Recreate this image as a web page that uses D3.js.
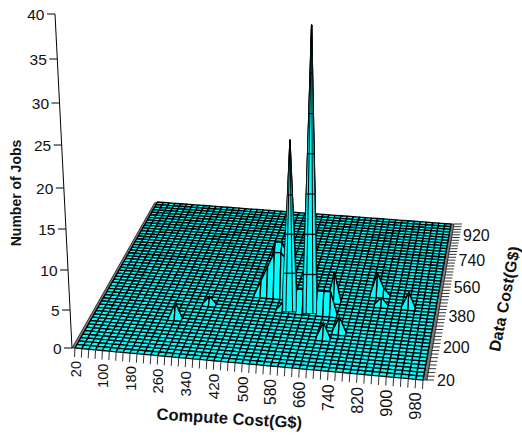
<!DOCTYPE html>
<html><head><meta charset="utf-8">
<script src="https://cdn.jsdelivr.net/npm/d3@7/dist/d3.min.js"></script>
<style>html,body{margin:0;padding:0;background:#fff}svg{display:block}text{font-family:"Liberation Sans",Arial,sans-serif;fill:#111}</style>
</head><body><svg id="c" width="522" height="437"></svg>
<script>
// ---- data
const computeTicks = [20,100,180,260,340,420,500,580,660,740,820,900,980];
const dataTicks = [20,200,380,560,740,920];
const jobTicks = [0,5,10,15,20,25,30,35,40];
const gridStepValues = d3.range(20,1001,20);
// non-zero cells of the surface
const cellCompute = [260,340,700,700,740,820,840,840,920, 480,500,520,540,560,500,520,540,560, 560,600,620,660,680,700];
const cellData    = [240,340,420,200,240,480,480,420,420, 420,420,420,420,420,440,440,440,440, 340,340,340,340,340,340];
const cellJobs    = [  2,  1,  4,  2,  2,  3,  1,  1,  2,   2,  4,  6,  6,  5,  3,  7,  7,  5,   1,  3,  3,  3,  3,  3];
// tall spikes drawn with level contours
const spikeCompute = [580,640];
const spikeData = [340,340];
const spikeJobs = [22,36];
const contourLevels = [5,10,15,20,25,30,35];
const jobPixels = [0,38,78,119,160,203,245,289,334];

// ---- scales
const uScale = d3.scaleLinear([20,1000],[0,1]);
const vScale = d3.scaleLinear([20,1000],[0,1]);
const zScale = d3.scaleLinear(jobTicks,jobPixels);
const P00=[75,348],P10=[423,380],P11=[451,224],P01=[157.5,202];
const dx1=[P10[0]-P11[0],P10[1]-P11[1]],dx2=[P01[0]-P11[0],P01[1]-P11[1]];
const sx=[P00[0]-P10[0]+P11[0]-P01[0],P00[1]-P10[1]+P11[1]-P01[1]];
const D=dx1[0]*dx2[1]-dx1[1]*dx2[0];
const g=(sx[0]*dx2[1]-sx[1]*dx2[0])/D,h=(dx1[0]*sx[1]-dx1[1]*sx[0])/D;
const a=P10[0]-P00[0]+g*P10[0],b=P01[0]-P00[0]+h*P01[0];
const d=P10[1]-P00[1]+g*P10[1],e=P01[1]-P00[1]+h*P01[1];
function project(cx,dy,z){
  const u=uScale(cx),v=vScale(dy),w=g*u+h*v+1;
  const x=(a*u+b*v+P00[0])/w,y=(d*u+e*v+P00[1])/w;
  const H=zScale(z||0)/w;
  return [x+(x-285)*0.000223*H,y-H];
}
const svg=d3.select("#c");
// ---- side skirts
const C=[project(20,20),project(1000,20),project(1000,1000),project(20,1000)];
svg.append("path").attr("d",`M${C[0]}L${C[3]}L${C[3][0]-3},${C[3][1]+1}L${C[0][0]-3},${C[0][1]}Z`).attr("fill","#777").attr("stroke","#000").attr("stroke-width",.7);
svg.append("path").attr("d",`M${C[1]}L${C[2]}L${C[2][0]+3},${C[2][1]}L${C[1][0]+4},${C[1][1]}Z`).attr("fill","#777").attr("stroke","#000").attr("stroke-width",.7);
// ---- surface
const jobsAt=new Map();
cellCompute.forEach((c,i)=>jobsAt.set(c+"_"+cellData[i],cellJobs[i]));
spikeCompute.forEach((c,i)=>jobsAt.set(c+"_"+spikeData[i],spikeJobs[i]));
const Z=(c,y)=>jobsAt.get(c+"_"+y)||0;
const cells=[];
gridStepValues.slice(0,-1).forEach(c=>gridStepValues.slice(0,-1).forEach(y=>cells.push({c,y})));
cells.sort((p,q)=>d3.descending(p.y,q.y)||d3.descending(Math.abs(p.c-620),Math.abs(q.c-620)));
const line=d3.line();
svg.append("g").selectAll("path").data(cells).join("path")
  .attr("d",k=>line([project(k.c,k.y,Z(k.c,k.y)),project(k.c+20,k.y,Z(k.c+20,k.y)),project(k.c+20,k.y+20,Z(k.c+20,k.y+20)),project(k.c,k.y+20,Z(k.c,k.y+20))])+"Z")
  .attr("fill","#00ffff").attr("stroke","#000").attr("stroke-width",1.3).attr("stroke-linejoin","round");
// ---- spike overlays (contours + inner ridges)
const spikes=spikeCompute.map((c,i)=>({c,y:spikeData[i],z:spikeJobs[i]}));
const sg=svg.append("g");
spikes.forEach(s=>{
  const top=project(s.c,s.y,s.z);
  const l=project(s.c-20,s.y-6,3),r=project(s.c+20,s.y-6,3);
  const il=project(s.c-10,s.y-10,0),ir=project(s.c+10,s.y-10,0);
  sg.append("path").attr("d",line([l,top,r,[r[0],il[1]],[l[0],il[1]]])+"Z").attr("fill","#00ffff").attr("stroke","#000").attr("stroke-width",.8);
  sg.append("path").attr("d",line([top,il])).attr("stroke","#000").attr("fill","none");
  sg.append("path").attr("d",line([top,ir])).attr("stroke","#000").attr("fill","none");
  contourLevels.filter(L=>L<s.z).forEach(L=>{
    const y=top[1]+(l[1]-top[1])*(s.z-L)/(s.z-3);
    const t=(y-top[1])/(l[1]-top[1]);
    sg.append("line").attr("x1",top[0]+(l[0]-top[0])*t).attr("x2",top[0]+(r[0]-top[0])*t).attr("y1",y).attr("y2",y).attr("stroke","#000").attr("stroke-width",1.2);
  });
});
// ---- z axis
const zBase=[72,348],zLean=17/334;
const zPos=v=>[zBase[0]-zLean*zScale(v),zBase[1]-zScale(v)];
svg.append("path").attr("d",line([zPos(0),zPos(40)])).attr("stroke","#000").attr("fill","none");
jobTicks.forEach(v=>{
  const p=zPos(v);
  svg.append("line").attr("x1",p[0]-8).attr("x2",p[0]).attr("y1",p[1]).attr("y2",p[1]).attr("stroke","#000");
  svg.append("text").attr("x",p[0]-10.5).attr("y",p[1]+5.5).attr("text-anchor","end").attr("font-size",15.5).text(v);
});
// ---- compute axis
gridStepValues.forEach(v=>{
  const p=project(v,20);
  svg.append("line").attr("x1",p[0]).attr("x2",p[0]-.5).attr("y1",p[1]).attr("y2",p[1]+9).attr("stroke","#333");
});
computeTicks.forEach(v=>{
  const p=project(v,20);
  svg.append("text").attr("transform",`translate(${p[0]+5.5},${p[1]+13}) rotate(-90)`).attr("text-anchor","end").attr("font-size",14.5+2*uScale(v)).text(v);
});
// ---- data axis
gridStepValues.forEach(v=>{
  const p=project(1000,v);
  svg.append("line").attr("x1",p[0]+3).attr("x2",p[0]+11).attr("y1",p[1]).attr("y2",p[1]).attr("stroke","#333");
});
dataTicks.forEach(v=>{
  const p=project(1000,v);
  svg.append("text").attr("x",p[0]+14).attr("y",p[1]+6).attr("font-size",16).text(v);
});
// ---- titles
svg.append("text").attr("transform","translate(229,424) rotate(3.5)").attr("text-anchor","middle").attr("font-weight","bold").attr("font-size",16.5).text("Compute Cost(G$)");
svg.append("text").attr("transform","translate(21,193) rotate(-90)").attr("text-anchor","middle").attr("font-weight","bold").attr("font-size",14).text("Number of Jobs");
svg.append("text").attr("transform","translate(510,300) rotate(-79)").attr("text-anchor","middle").attr("font-weight","bold").attr("font-size",16).text("Data Cost(G$)");
</script></body></html>
